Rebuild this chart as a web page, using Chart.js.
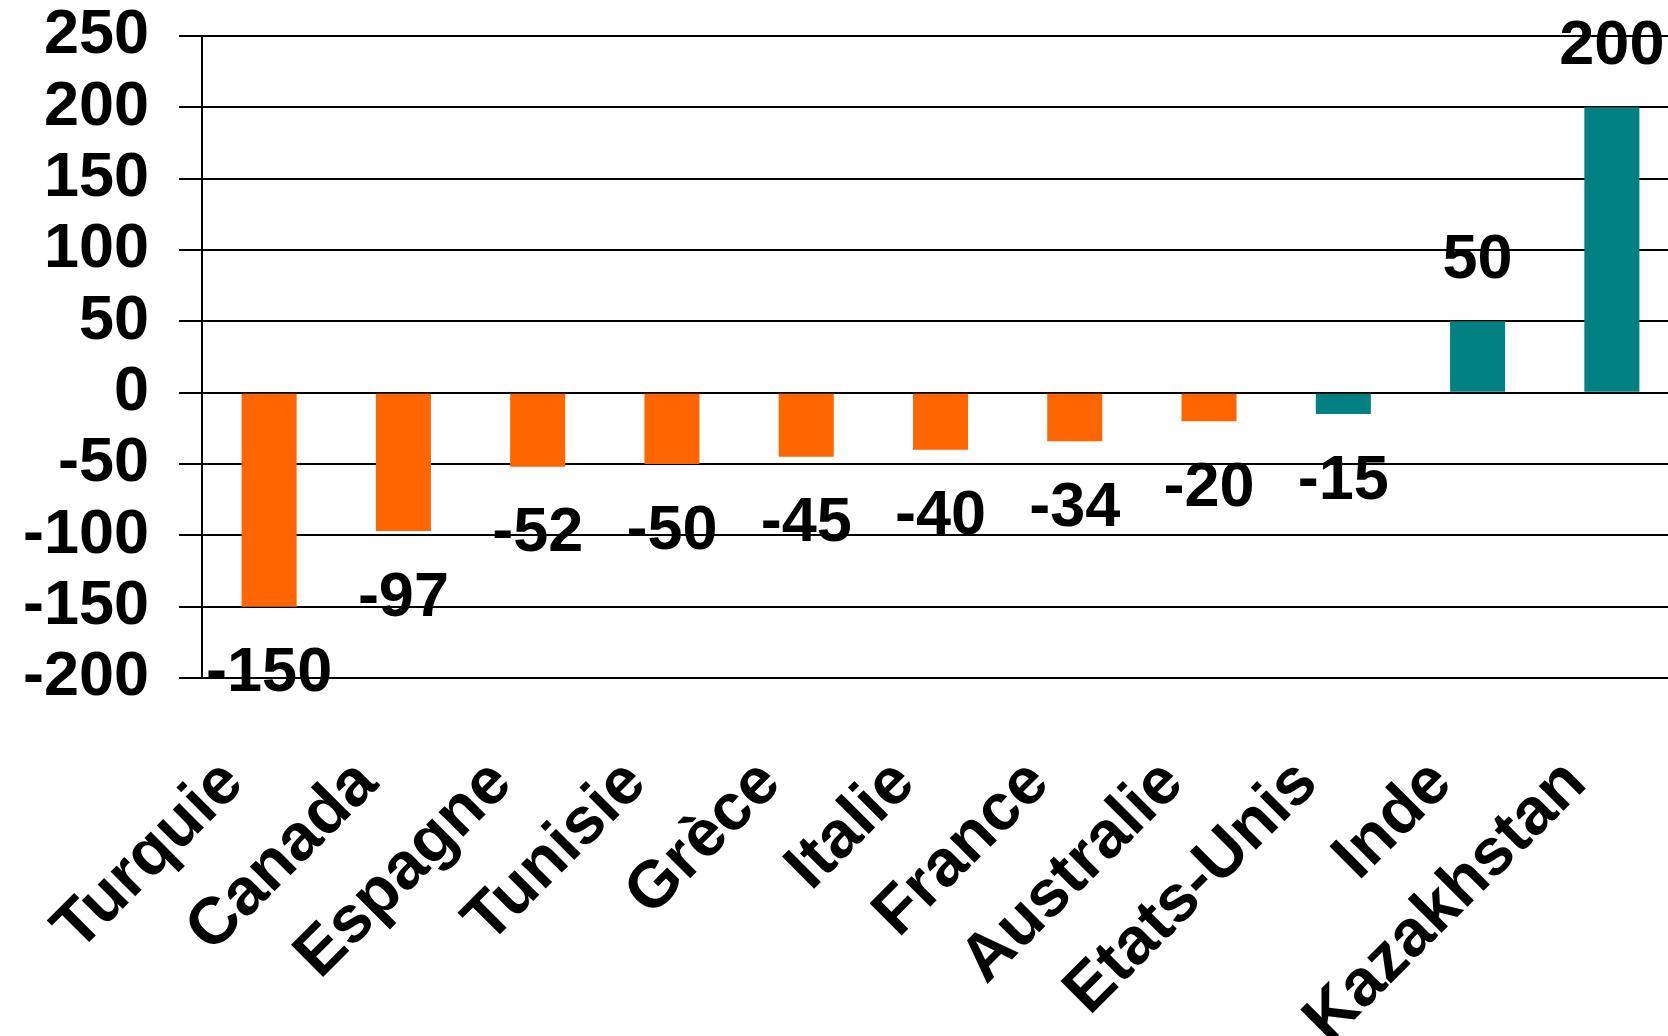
<!DOCTYPE html>
<html>
<head>
<meta charset="utf-8">
<script src="https://cdn.jsdelivr.net/npm/chart.js@4"></script>
<style>
  html, body { margin: 0; padding: 0; background: #fff; overflow: hidden; width: 1668px; height: 1036px; }
  #c { display: block; }
</style>
</head>
<body>
<canvas id="c" width="1680" height="1036"></canvas>
<script>
// ---- data ----
const categories = ["Turquie", "Canada", "Espagne", "Tunisie", "Grèce", "Italie", "France", "Australie", "Etats-Unis", "Inde", "Kazakhstan"];
const values = [-150, -97, -52, -50, -45, -40, -34, -20, -15, 50, 200];
const yTicks = [-200, -150, -100, -50, 0, 50, 100, 150, 200, 250];

// ---- styles ----
const ORANGE = "#FF6600";
const TEAL = "#008080";
const barColors = [ORANGE, ORANGE, ORANGE, ORANGE, ORANGE, ORANGE, ORANGE, ORANGE, TEAL, TEAL, TEAL];
const FONT = '"Liberation Sans", Arial, Helvetica, sans-serif';
const FSIZE = 63;
const XFSIZE = 66;

const valueLabels = {
  id: 'valueLabels',
  afterDatasetsDraw(chart) {
    const ctx = chart.ctx;
    const meta = chart.getDatasetMeta(0);
    ctx.save();
    ctx.font = 'bold ' + FSIZE + 'px ' + FONT;
    ctx.fillStyle = '#000';
    ctx.textAlign = 'center';
    ctx.textBaseline = 'alphabetic';
    const half = FSIZE * 0.716 / 2;
    meta.data.forEach((bar, i) => {
      const v = values[i];
      let yc;
      if (v >= 0) yc = bar.y - 66; else yc = bar.y + 62;
      ctx.fillText(String(v), bar.x, yc + half);
    });
    ctx.restore();
  }
};

new Chart(document.getElementById('c'), {
  type: 'bar',
  data: {
    labels: categories,
    datasets: [{
      data: values,
      backgroundColor: barColors,
      borderWidth: 0,
      categoryPercentage: 1,
      barPercentage: 0.41
    }]
  },
  options: {
    responsive: false,
    animation: false,
    devicePixelRatio: 1,
    layout: { padding: { top: 0, right: 1, bottom: 0, left: 0 } },
    plugins: { legend: { display: false }, tooltip: { enabled: false } },
    scales: {
      x: {
        offset: true,
        grid: { display: false, drawTicks: false },
        border: { display: true, color: '#000', width: 2 },
        ticks: {
          autoSkip: false,
          minRotation: 45,
          maxRotation: 45,
          padding: 68,
          labelOffset: -36,
          color: '#000',
          font: { family: FONT, size: XFSIZE, weight: 'bold', lineHeight: 1.14 }
        },
        afterFit(scale) {
          scale.height = 358;
          scale.paddingLeft = 0;
          scale.paddingRight = 0;
          scale.paddingTop = 0;
          scale.paddingBottom = 0;
        }
      },
      y: {
        min: -200,
        max: 250,
        afterBuildTicks(scale) { scale.ticks = yTicks.map(v => ({ value: v })); },
        grid: { color: '#000', lineWidth: 2, drawTicks: true, tickLength: 23 },
        border: { display: true, color: '#000', width: 2 },
        ticks: {
          autoSkip: false,
          padding: 30,
          color: '#000',
          font: { family: FONT, size: FSIZE, weight: 'bold', lineHeight: 1.14 }
        },
        afterFit(scale) {
          scale.width = 202;
          scale.paddingTop = 36;
          scale.paddingBottom = 0;
          scale.paddingLeft = 0;
          scale.paddingRight = 0;
        }
      }
    }
  },
  plugins: [valueLabels]
});
</script>
</body>
</html>
